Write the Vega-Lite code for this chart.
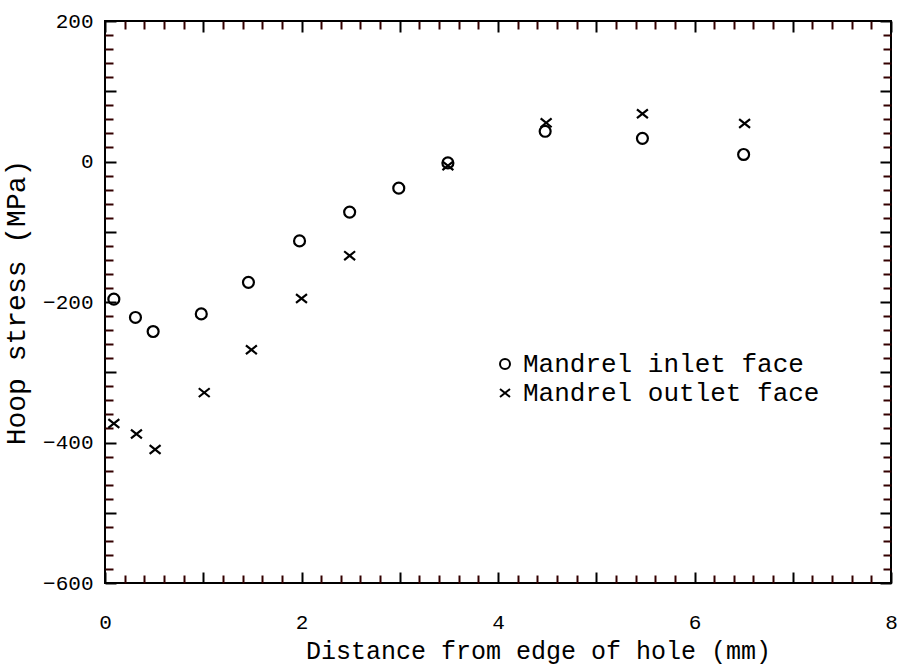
{
  "$schema": "https://vega.github.io/schema/vega-lite/v6.json",
  "width": 786,
  "height": 562,
  "autosize": {"type": "none"},
  "padding": {"left": 105, "top": 21, "right": 7, "bottom": 85},
  "background": "white",
  "config": {
    "view": {"stroke": "black", "strokeWidth": 2},
    "font": "Liberation Mono",
    "axis": {"labelColor": "black", "titleColor": "black", "tickColor": "black", "tickWidth": 2, "domain": false, "grid": false, "labelFontWeight": "normal", "titleFontWeight": "normal", "labelFlush": false, "labelOverlap": false}
  },
  "data": {
    "values": [
      {"distance": 0.09, "stress": -196, "series": "Mandrel inlet face"},
      {"distance": 0.31, "stress": -222, "series": "Mandrel inlet face"},
      {"distance": 0.49, "stress": -242, "series": "Mandrel inlet face"},
      {"distance": 0.98, "stress": -217, "series": "Mandrel inlet face"},
      {"distance": 1.46, "stress": -172, "series": "Mandrel inlet face"},
      {"distance": 1.98, "stress": -113, "series": "Mandrel inlet face"},
      {"distance": 2.49, "stress": -72, "series": "Mandrel inlet face"},
      {"distance": 2.99, "stress": -38, "series": "Mandrel inlet face"},
      {"distance": 3.49, "stress": -2, "series": "Mandrel inlet face"},
      {"distance": 4.48, "stress": 43, "series": "Mandrel inlet face"},
      {"distance": 5.47, "stress": 33, "series": "Mandrel inlet face"},
      {"distance": 6.5, "stress": 10, "series": "Mandrel inlet face"},
      {"distance": 0.09, "stress": -373, "series": "Mandrel outlet face"},
      {"distance": 0.32, "stress": -388, "series": "Mandrel outlet face"},
      {"distance": 0.51, "stress": -410, "series": "Mandrel outlet face"},
      {"distance": 1.01, "stress": -329, "series": "Mandrel outlet face"},
      {"distance": 1.49, "stress": -268, "series": "Mandrel outlet face"},
      {"distance": 2.0, "stress": -195, "series": "Mandrel outlet face"},
      {"distance": 2.49, "stress": -134, "series": "Mandrel outlet face"},
      {"distance": 3.49, "stress": -6, "series": "Mandrel outlet face"},
      {"distance": 4.49, "stress": 55, "series": "Mandrel outlet face"},
      {"distance": 5.47, "stress": 68, "series": "Mandrel outlet face"},
      {"distance": 6.51, "stress": 54, "series": "Mandrel outlet face"}
    ]
  },
  "layer": [
    {
      "mark": {"type": "point", "filled": false, "strokeWidth": 2.2, "size": 120, "color": "black", "opacity": 1},
      "encoding": {
        "x": {
          "field": "distance", "type": "quantitative",
          "scale": {"domain": [0, 8], "nice": false, "zero": false},
          "axis": {
            "orient": "bottom",
            "values": [0, 2, 4, 6, 8],
            "ticks": false,
            "labelPadding": 28,
            "labelFontSize": 21,
            "title": "Distance from edge of hole (mm)",
            "titleFontSize": 25,
            "titlePadding": 6,
            "titleX": 433
          }
        },
        "y": {
          "field": "stress", "type": "quantitative",
          "scale": {"domain": [-600, 200], "nice": false, "zero": false},
          "axis": {
            "orient": "left",
            "values": [-600, -400, -200, 0, 200],
            "ticks": false,
            "labelPadding": 12,
            "labelFontSize": 21,
            "title": "Hoop stress (MPa)",
            "titleFontSize": 28,
            "titlePadding": 12
          }
        },
        "shape": {
          "field": "series", "type": "nominal",
          "scale": {"domain": ["Mandrel inlet face", "Mandrel outlet face"], "range": ["circle", "M-1,-0.8L1,0.8M-1,0.8L1,-0.8"]},
          "legend": {
            "title": null,
            "orient": "none",
            "legendX": 387,
            "legendY": 330,
            "padding": 0,
            "labelFont": "Liberation Mono",
            "labelFontSize": 26,
            "labelLimit": 0,
            "labelColor": "black",
            "labelOffset": 5,
            "rowPadding": 3,
            "symbolSize": 100,
            "symbolStrokeWidth": 2,
            "symbolStrokeColor": "black",
            "symbolFillColor": "transparent"
          }
        }
      }
    },
    {
      "mark": {"type": "point", "opacity": 0},
      "encoding": {
        "x": {
          "field": "distance", "type": "quantitative",
          "scale": {"domain": [0, 8], "nice": false, "zero": false},
          "axis": {"orient": "bottom", "values": [0, 1, 2, 3, 4, 5, 6, 7, 8], "labels": false, "title": null, "tickSize": -11}
        },
        "y": {
          "field": "stress", "type": "quantitative",
          "scale": {"domain": [-600, 200], "nice": false, "zero": false},
          "axis": {"orient": "left", "values": [-600, -500, -400, -300, -200, -100, 0, 100, 200], "labels": false, "title": null, "tickSize": -11}
        }
      }
    },
    {
      "mark": {"type": "point", "opacity": 0},
      "encoding": {
        "x": {
          "field": "distance", "type": "quantitative",
          "scale": {"domain": [0, 8], "nice": false, "zero": false},
          "axis": {"orient": "bottom", "values": [0.2,0.4,0.6,0.8,1.2,1.4,1.6,1.8,2.2,2.4,2.6,2.8,3.2,3.4,3.6,3.8,4.2,4.4,4.6,4.8,5.2,5.4,5.6,5.8,6.2,6.4,6.6,6.8,7.2,7.4,7.6,7.8], "labels": false, "title": null, "tickSize": -8, "tickColor": "#330000"}
        },
        "y": {
          "field": "stress", "type": "quantitative",
          "scale": {"domain": [-600, 200], "nice": false, "zero": false},
          "axis": {"orient": "left", "values": [-580,-560,-540,-520,-480,-460,-440,-420,-380,-360,-340,-320,-280,-260,-240,-220,-180,-160,-140,-120,-80,-60,-40,-20,20,40,60,80,120,140,160,180], "labels": false, "title": null, "tickSize": -8, "tickColor": "#330000"}
        }
      }
    },
    {
      "mark": {"type": "point", "opacity": 0},
      "encoding": {
        "x": {
          "field": "distance", "type": "quantitative",
          "scale": {"domain": [0, 8], "nice": false, "zero": false},
          "axis": {"orient": "top", "values": [0, 1, 2, 3, 4, 5, 6, 7, 8], "labels": false, "title": null, "tickSize": -11}
        },
        "y": {
          "field": "stress", "type": "quantitative",
          "scale": {"domain": [-600, 200], "nice": false, "zero": false},
          "axis": {"orient": "right", "values": [-600, -500, -400, -300, -200, -100, 0, 100, 200], "labels": false, "title": null, "tickSize": -11}
        }
      }
    },
    {
      "mark": {"type": "point", "opacity": 0},
      "encoding": {
        "x": {
          "field": "distance", "type": "quantitative",
          "scale": {"domain": [0, 8], "nice": false, "zero": false},
          "axis": {"orient": "top", "values": [0.2,0.4,0.6,0.8,1.2,1.4,1.6,1.8,2.2,2.4,2.6,2.8,3.2,3.4,3.6,3.8,4.2,4.4,4.6,4.8,5.2,5.4,5.6,5.8,6.2,6.4,6.6,6.8,7.2,7.4,7.6,7.8], "labels": false, "title": null, "tickSize": -8, "tickColor": "#330000"}
        },
        "y": {
          "field": "stress", "type": "quantitative",
          "scale": {"domain": [-600, 200], "nice": false, "zero": false},
          "axis": {"orient": "right", "values": [-580,-560,-540,-520,-480,-460,-440,-420,-380,-360,-340,-320,-280,-260,-240,-220,-180,-160,-140,-120,-80,-60,-40,-20,20,40,60,80,120,140,160,180], "labels": false, "title": null, "tickSize": -8, "tickColor": "#330000"}
        }
      }
    }
  ],
  "resolve": {"axis": {"x": "independent", "y": "independent"}}
}
